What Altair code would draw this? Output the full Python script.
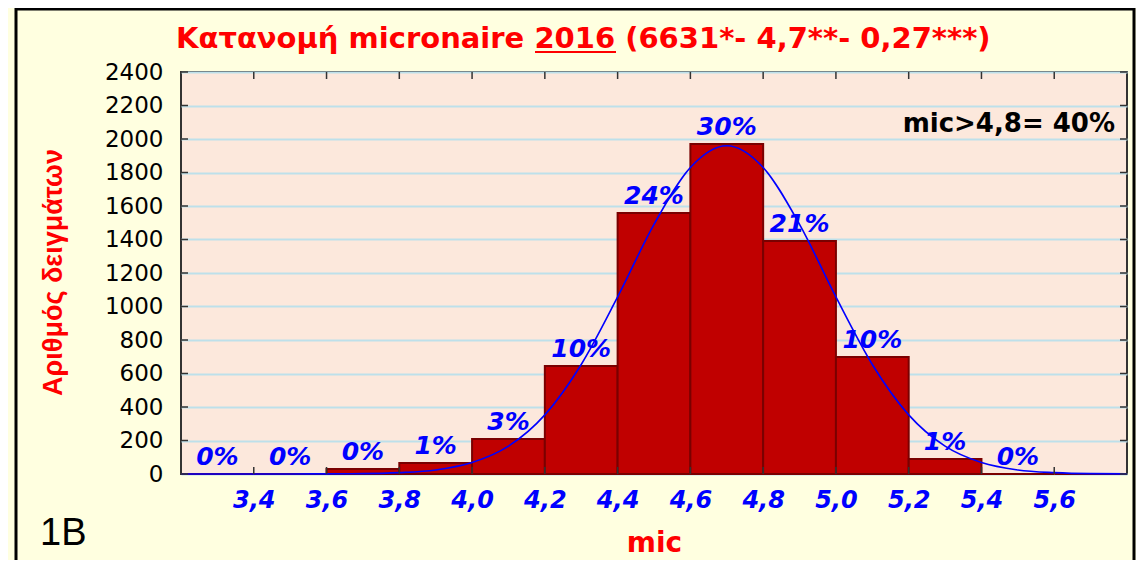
import altair as alt
import pandas as pd

# ---- data ----
bin_start = [3.2, 3.4, 3.6, 3.8, 4.0, 4.2, 4.4, 4.6, 4.8, 5.0, 5.2, 5.4, 5.6]
bin_end = [3.4, 3.6, 3.8, 4.0, 4.2, 4.4, 4.6, 4.8, 5.0, 5.2, 5.4, 5.6, 5.8]
counts = [0, 0, 30, 66, 209, 645, 1558, 1970, 1391, 698, 90, 0, 0]
pct_labels = ["0%", "0%", "0%", "1%", "3%", "10%", "24%", "30%", "21%", "10%", "1%", "0%", ""]

curve_x = [3.2, 3.3, 3.4, 3.5, 3.6, 3.7, 3.8, 3.9, 4.0, 4.1, 4.2, 4.3, 4.4, 4.5,
           4.6, 4.7, 4.8, 4.9, 5.0, 5.1, 5.2, 5.3, 5.4, 5.5, 5.6, 5.7, 5.8]
curve_y = [0, 0, 0, 0, 1, 2, 8, 24, 68, 166, 353, 654, 1057, 1490,
           1830, 1960, 1830, 1490, 1057, 654, 353, 166, 68, 24, 8, 2, 1]

x_ticks = [3.4, 3.6, 3.8, 4.0, 4.2, 4.4, 4.6, 4.8, 5.0, 5.2, 5.4, 5.6]
y_ticks = [0, 200, 400, 600, 800, 1000, 1200, 1400, 1600, 1800, 2000, 2200, 2400]

title_text = "Κατανομή micronaire 2016 (6631*- 4,7**- 0,27***)"
x_title = "mic"
y_title = "Αριθμός δειγμάτων"
note_text = "mic>4,8= 40%"
panel_text = "1B"

df = pd.DataFrame({
    "start": bin_start,
    "end": bin_end,
    "mid": [round((s + e) / 2, 2) for s, e in zip(bin_start, bin_end)],
    "count": counts,
    "base": [0] * len(counts),
    "label": pct_labels,
})
curve_df = pd.DataFrame({"cx": curve_x, "cy": curve_y})
xt_df = pd.DataFrame({"xt": x_ticks})
yt_df = pd.DataFrame({"yt": y_ticks})

W, H = 946, 402

xscale = alt.Scale(domain=[3.2, 5.8], nice=False, zero=False)
yscale = alt.Scale(domain=[0, 2400], nice=False)

xaxis = alt.Axis(
    values=x_ticks,
    labelExpr="replace(format(datum.value, '.1f'), '.', ',')",
    labelFont="DejaVu Sans", labelFontSize=24, labelFontWeight="bold",
    labelFontStyle="italic", labelColor="#0000FF", labelPadding=14,
    labelOverlap=False, ticks=False, domain=False, grid=False,
    titleFont="DejaVu Sans", titleFontSize=28, titleFontWeight="bold",
    titleColor="#FF0000", titleY=77, titleX=W / 2, titleBaseline="alphabetic",
)
yaxis = alt.Axis(
    values=y_ticks, format="d",
    labelFont="DejaVu Sans", labelFontSize=23, labelColor="#000000",
    labelPadding=18, labelOverlap=False, ticks=False, domain=False,
    grid=True, gridColor="#BDE0EA", gridWidth=2,
    titleFont="Liberation Sans", titleFontSize=27, titleFontWeight="bold",
    titleColor="#FF0000", titleX=-120, titleY=200, titleAngle=270,
    titleAlign="center", titleBaseline="alphabetic",
)


def X(field):
    return alt.X(field, scale=xscale, axis=xaxis, title=x_title)


def Y(field):
    return alt.Y(field, scale=yscale, axis=yaxis, title=y_title)


bars = alt.Chart(df).mark_bar(color="#C00000", stroke="#7A0000", strokeWidth=2).encode(
    x=X("start:Q"), x2="end:Q", y=Y("count:Q"), y2="base:Q",
)

curve = alt.Chart(curve_df).mark_line(color="#0000FF", strokeWidth=1.6, interpolate="monotone").encode(
    x=X("cx:Q"), y=Y("cy:Q"),
)

labels = alt.Chart(df).mark_text(
    baseline="bottom", dy=-4, font="DejaVu Sans", fontSize=25,
    fontWeight="bold", fontStyle="italic", color="#0000FF",
).encode(x=X("mid:Q"), y=Y("count:Q"), text="label:N")

# inner tick marks on the four sides of the frame
tick_color = "#333333"
yt_left = alt.Chart(yt_df).mark_rule(color=tick_color, strokeWidth=1.5).encode(
    y=Y("yt:Q"), x=alt.value(0), x2=alt.value(7))
yt_right = alt.Chart(yt_df).mark_rule(color=tick_color, strokeWidth=1.5).encode(
    y=Y("yt:Q"), x=alt.value(W - 7), x2=alt.value(W))
xt_bottom = alt.Chart(xt_df).mark_rule(color=tick_color, strokeWidth=1.5).encode(
    x=X("xt:Q"), y=alt.value(H - 7), y2=alt.value(H))
xt_top = alt.Chart(xt_df).mark_rule(color=tick_color, strokeWidth=1.5).encode(
    x=X("xt:Q"), y=alt.value(0), y2=alt.value(7))

one = alt.Data(values=[{"a": 1}])

title = alt.Chart(pd.DataFrame({"t": [title_text]})).mark_text(
    align="left", baseline="alphabetic", font="DejaVu Sans", fontSize=29,
    fontWeight="bold", color="#FF0000",
).encode(x=alt.value(-5), y=alt.value(-24), text="t:N")

underline = alt.Chart(one).mark_rule(color="#FF0000", strokeWidth=2).encode(
    x=alt.value(354), x2=alt.value(435), y=alt.value(-20)
)

note = alt.Chart(pd.DataFrame({"t": [note_text]})).mark_text(
    align="right", baseline="alphabetic", font="DejaVu Sans", fontSize=26,
    fontWeight="bold", color="#000000",
).encode(x=alt.value(934), y=alt.value(60), text="t:N")

panel = alt.Chart(pd.DataFrame({"t": [panel_text]})).mark_text(
    align="left", baseline="alphabetic", font="Liberation Sans", fontSize=38,
    color="#000000",
).encode(x=alt.value(-141), y=alt.value(473), text="t:N")

frame_left = alt.Chart(one).mark_rule(color="#000000", strokeWidth=3).encode(
    x=alt.value(-165), y=alt.value(-64), y2=alt.value(H + 86)
)
frame_top = alt.Chart(one).mark_rule(color="#000000", strokeWidth=3).encode(
    x=alt.value(-165), x2=alt.value(954), y=alt.value(-63)
)
frame_right = alt.Chart(one).mark_rule(color="#000000", strokeWidth=3).encode(
    x=alt.value(953), y=alt.value(-64), y2=alt.value(H + 86)
)

chart = alt.layer(
    bars, curve, labels, yt_left, yt_right, xt_bottom, xt_top,
    title, underline, note, panel,
    frame_left, frame_top, frame_right,
).properties(
    width=W, height=H,
    padding={"left": 173, "top": 64, "right": 9, "bottom": 86},
    autosize=alt.AutoSizeParams(type="none"),
    background="#FFFFE0",
).configure_view(
    fill="#FCE8DC", stroke="#333333", strokeWidth=2,
)

chart.save("out.html", embed_options={"renderer": "svg", "actions": False})
